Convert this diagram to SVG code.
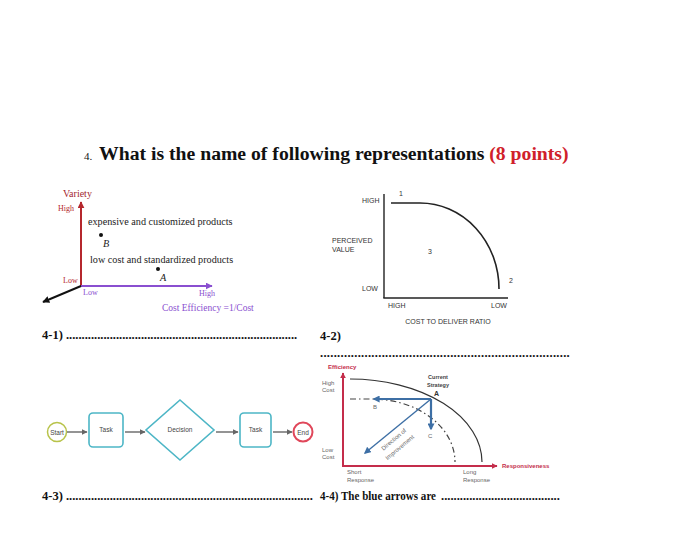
<svg xmlns="http://www.w3.org/2000/svg" width="700" height="537" viewBox="0 0 700 537">
<style>
.serif{font-family:"Liberation Serif","Times New Roman",serif}
.sans{font-family:"Liberation Sans",Arial,sans-serif}
.b{font-weight:bold}
.q{font-family:"Liberation Serif",serif;font-weight:bold;font-size:12.5px;fill:#111}
.c1{font-family:"Liberation Serif",serif;font-size:10.2px;fill:#222}
.c2{font-family:"Liberation Sans",Arial,sans-serif;font-size:7px;fill:#333}
.c4{font-family:"Liberation Sans",Arial,sans-serif;font-size:6px;fill:#666}
.fc{font-family:"Liberation Sans",Arial,sans-serif;font-size:6.5px;fill:#444}
.box{fill:#fff;stroke:#4db6c6;stroke-width:1.6}
.fl{stroke:#666;stroke-width:1.4;fill:none}
</style>
<defs>
<marker id="ar" viewBox="0 0 10 10" refX="9" refY="5" markerWidth="7" markerHeight="7" markerUnits="userSpaceOnUse" orient="auto"><path d="M0,0L10,5L0,10z" fill="#b5272d"/></marker>
<marker id="ap" viewBox="0 0 10 10" refX="9" refY="5" markerWidth="7" markerHeight="7" markerUnits="userSpaceOnUse" orient="auto"><path d="M0,0L10,5L0,10z" fill="#8a4fd0"/></marker>
<marker id="ak" viewBox="0 0 10 10" refX="9" refY="5" markerWidth="7" markerHeight="7" markerUnits="userSpaceOnUse" orient="auto"><path d="M0,0L10,5L0,10z" fill="#111"/></marker>
<marker id="ag" viewBox="0 0 10 10" refX="9" refY="5" markerWidth="6" markerHeight="6" markerUnits="userSpaceOnUse" orient="auto"><path d="M0,0L10,5L0,10z" fill="#666"/></marker>
<marker id="ae" viewBox="0 0 10 10" refX="9" refY="5" markerWidth="6" markerHeight="6" markerUnits="userSpaceOnUse" orient="auto"><path d="M0,0L10,5L0,10z" fill="#c42d4b"/></marker>
<marker id="ab" viewBox="0 0 10 10" refX="8" refY="5" markerWidth="7" markerHeight="7" markerUnits="userSpaceOnUse" orient="auto"><path d="M0,0L10,5L0,10z" fill="#3d6fa5"/></marker>
</defs>
<rect width="700" height="537" fill="#fff"/>

<g id="title">
<text x="84" y="160" class="serif" font-size="11" fill="#111">4.</text>
<text x="99" y="160" class="serif b" font-size="19.7" fill="#111">What is the name of following representations <tspan fill="#d0202a">(8 points)</tspan></text>
</g>

<g id="chart1">
<text x="63" y="197" class="serif" font-size="10" fill="#a3262e">Variety</text>
<text x="58" y="211" class="serif" font-size="8" fill="#b5272d">High</text>
<text x="63" y="283" class="serif" font-size="8" fill="#b5272d">Low</text>
<text x="83" y="295" class="serif" font-size="8" fill="#8a4fd0">Low</text>
<text x="199" y="296" class="serif" font-size="8" fill="#8a4fd0">High</text>
<text x="162" y="311" class="serif" font-size="9.5" fill="#8a4fd0">Cost Efficiency  =1/Cost</text>
<text x="88" y="225" class="c1">expensive and customized products</text>
<text x="90" y="263" class="c1">low cost and standardized products</text>
<circle cx="101" cy="235" r="2" fill="#111"/>
<text x="103" y="247" class="c1" font-style="italic" font-size="8.5">B</text>
<circle cx="158" cy="269" r="2" fill="#111"/>
<text x="160" y="281" class="c1" font-style="italic" font-size="8.5">A</text>
</g>

<g id="chart2">
<text x="362" y="203" class="c2">HIGH</text>
<text x="399" y="196" class="c2">1</text>
<text x="332" y="243" class="c2">PERCEIVED</text>
<text x="332" y="252" class="c2">VALUE</text>
<text x="428" y="254" class="c2">3</text>
<text x="509" y="283" class="c2">2</text>
<text x="362" y="291" class="c2">LOW</text>
<text x="388" y="308" class="c2">HIGH</text>
<text x="491" y="308" class="c2">LOW</text>
<text x="448" y="324" class="c2" text-anchor="middle">COST TO DELIVER RATIO</text>
</g>

<g id="labels">
<text x="42" y="339" class="q">4-1) ..........................................................................</text>
<text x="320" y="340" class="q">4-2)</text>
<text x="320" y="357" class="q" letter-spacing="0.3">.........................................................................</text>
<text x="42" y="500" class="q">4-3) ...............................................................................</text>
<text x="320" y="500" class="q" font-size="11" textLength="116" lengthAdjust="spacingAndGlyphs">4-4) The blue arrows are</text>
<text x="441" y="500" class="q">......................................</text>
</g>

<g id="flow-start"><circle cx="57" cy="432" r="9.5" fill="#fff" stroke="#b8c34a" stroke-width="1.5"/><text x="57" y="434.5" class="fc" text-anchor="middle">Start</text></g>
<g id="flow-task1"><rect x="89" y="413" width="34" height="34" rx="4" class="box"/><text x="106" y="432" class="fc" text-anchor="middle">Task</text></g>
<g id="flow-decision"><path d="M180,400L214,430L180,460L146,430z" class="box"/><text x="180" y="432" class="fc" text-anchor="middle">Decision</text></g>
<g id="flow-task2"><rect x="240" y="413" width="31" height="34" rx="4" class="box"/><text x="255.5" y="432" class="fc" text-anchor="middle">Task</text></g>
<g id="flow-end"><circle cx="303" cy="432" r="9.5" fill="#fff" stroke="#e0475a" stroke-width="2"/><text x="303" y="434.5" class="fc" text-anchor="middle" fill="#c42d4b">End</text></g>

<g id="chart4">
<text x="328" y="369" class="sans b" font-size="6" fill="#c42d4b">Efficiency</text>
<text x="322" y="385" class="c4">High</text>
<text x="322" y="392" class="c4">Cost</text>
<text x="322" y="452" class="c4">Low</text>
<text x="322" y="459" class="c4">Cost</text>
<text x="347" y="474" class="c4">Short</text>
<text x="347" y="482" class="c4">Response</text>
<text x="463" y="474" class="c4">Long</text>
<text x="463" y="482" class="c4">Response</text>
<text x="502" y="468" class="sans b" font-size="6" fill="#c42d4b">Responsiveness</text>
<text x="438" y="379" class="sans b" font-size="5.5" fill="#444" text-anchor="middle">Current</text>
<text x="438" y="387" class="sans b" font-size="5.5" fill="#444" text-anchor="middle">Strategy</text>
<text x="434" y="396" class="sans b" font-size="7" fill="#333">A</text>
<text x="373" y="409" class="c4">B</text>
<text x="428" y="438" class="c4">C</text>
<text x="0" y="0" class="c4" font-size="5.5" transform="translate(395,441) rotate(-40)" text-anchor="middle">Direction of</text>
<text x="0" y="0" class="c4" font-size="5.5" transform="translate(401,449) rotate(-40)" text-anchor="middle">Improvement</text>
</g>

<g id="connectors">
<line x1="81" y1="286" x2="81" y2="202" stroke="#b5272d" stroke-width="2" marker-end="url(#ar)"/>
<line x1="81" y1="286" x2="212" y2="286" stroke="#8a4fd0" stroke-width="2" marker-end="url(#ap)"/>
<line x1="81" y1="286" x2="43" y2="302" stroke="#111" stroke-width="2" marker-end="url(#ak)"/>

<line x1="384" y1="194" x2="384" y2="298" stroke="#222" stroke-width="1.4"/>
<line x1="383.3" y1="298" x2="508" y2="298" stroke="#222" stroke-width="1.4"/>
<path d="M391,203L420,203A79,86 0 0 1 499,289" fill="none" stroke="#222" stroke-width="1.6"/>

<line x1="67" y1="432" x2="87" y2="432" class="fl" marker-end="url(#ag)"/>
<line x1="125" y1="432" x2="145" y2="432" class="fl" marker-end="url(#ag)"/>
<line x1="216" y1="432" x2="238" y2="432" class="fl" marker-end="url(#ag)"/>
<line x1="273" y1="432" x2="292" y2="432" class="fl" marker-end="url(#ag)"/>

<line x1="343" y1="466" x2="343" y2="373" stroke="#c42d4b" stroke-width="2" marker-end="url(#ae)"/>
<line x1="342" y1="466" x2="497" y2="466" stroke="#c42d4b" stroke-width="2" marker-end="url(#ae)"/>
<path d="M350,379A132,83 0 0 1 482,462" fill="none" stroke="#333" stroke-width="1.2"/>
<path d="M350,399L372,399A83,63 0 0 1 455,462" fill="none" stroke="#444" stroke-width="1.2" stroke-dasharray="6,3,1.5,3"/>
<line x1="431" y1="399" x2="374" y2="399" stroke="#3d6fa5" stroke-width="2.2" marker-end="url(#ab)"/>
<line x1="431" y1="399" x2="431" y2="429" stroke="#3d6fa5" stroke-width="2.2" marker-end="url(#ab)"/>
<line x1="431" y1="399" x2="365" y2="453" stroke="#3d6fa5" stroke-width="1.4" marker-end="url(#ab)"/>
</g>
</svg>
